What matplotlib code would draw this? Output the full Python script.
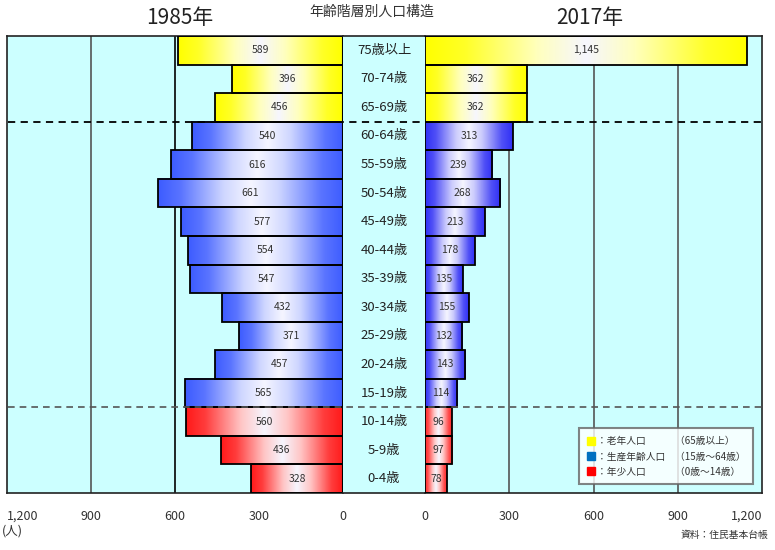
import numpy as np
import matplotlib
matplotlib.use("Agg")
import matplotlib.pyplot as plt
from matplotlib.colors import LinearSegmentedColormap, to_rgb
from matplotlib.patches import Rectangle
from matplotlib.lines import Line2D
from matplotlib import transforms

plt.rcParams['font.family'] = ['Noto Sans CJK JP', 'DejaVu Sans']

# data (top row first)
ages = ['75歳以上', '70-74歳', '65-69歳', '60-64歳', '55-59歳', '50-54歳',
        '45-49歳', '40-44歳', '35-39歳', '30-34歳', '25-29歳', '20-24歳',
        '15-19歳', '10-14歳', '5-9歳', '0-4歳']
pop_1985 = [589, 396, 456, 540, 616, 661, 577, 554, 547, 432, 371, 457,
            565, 560, 436, 328]
pop_2017 = [1145, 362, 362, 313, 239, 268, 213, 178, 135, 155, 132, 143,
            114, 96, 97, 78]
groups = ['old'] * 3 + ['work'] * 10 + ['young'] * 3
ticks = [0, 300, 600, 900, 1200]
tick_labels = ['0', '300', '600', '900', '1,200']
legend_labels = ['：老年人口　　　（65歳以上）',
                 '：生産年齢人口　（15歳～64歳）',
                 '：年少人口　　　（0歳～14歳）']

left_colors = {'old': '#FFFF00', 'work': '#3D5CFF', 'young': '#FF1A1A'}
right_colors = {'old': '#FFFF00', 'work': '#3030F5', 'young': '#FF2A2A'}
bg = '#CCFFFF'
txt = '#333333'

W, H = 775, 550
fig = plt.figure(figsize=(W / 100, H / 100), dpi=100)


def box(x0, x1, y0=36, y1=493):
    return [x0 / W, 1 - y1 / H, (x1 - x0) / W, (y1 - y0) / H]


ax_l = fig.add_axes(box(7, 343))
ax_m = fig.add_axes(box(343, 425))
ax_r = fig.add_axes(box(425, 762))

n = len(ages)
for ax in (ax_l, ax_m, ax_r):
    ax.set_facecolor(bg)
    ax.set_ylim(n - 0.5, -0.5)
    ax.set_yticks([])
    ax.tick_params(length=0, labelsize=9, labelcolor=txt, pad=12)
    for s in ax.spines.values():
        s.set_color('#222222')
        s.set_linewidth(1.2)

ax_l.spines['right'].set_visible(False)
ax_m.spines['left'].set_visible(False)
ax_m.spines['right'].set_visible(False)
ax_r.spines['left'].set_visible(False)
ax_m.set_xticks([])
ax_m.set_xlim(0, 1)


def mix(c, f):
    r = np.array(to_rgb(c))
    return tuple(r + (1 - r) * f)


def grad_bar(ax, y, w, color):
    cmap = LinearSegmentedColormap.from_list(
        '', [(0, color), (0.12, mix(color, 0.15)), (0.35, mix(color, 0.75)),
             (0.5, '#F6F6FF'), (0.65, mix(color, 0.75)),
             (0.88, mix(color, 0.15)), (1, color)])
    arr = np.linspace(0, 1, 128).reshape(1, -1)
    ax.imshow(arr, cmap=cmap, extent=(0, w, y + 0.5, y - 0.5),
              aspect='auto', zorder=2, interpolation='bilinear')
    ax.add_patch(Rectangle((0, y - 0.5), w, 1, fill=False, ec='black',
                           lw=1.3, zorder=3))


for i, (v1, v2, g) in enumerate(zip(pop_1985, pop_2017, groups)):
    grad_bar(ax_l, i, v1, left_colors[g])
    grad_bar(ax_r, i, v2, right_colors[g])
    ax_l.text(v1 / 2, i, f'{v1:,}', ha='center', va='center', fontsize=7.5,
              color=txt, zorder=4)
    ax_r.text(v2 / 2, i, f'{v2:,}', ha='center', va='center', fontsize=7.5,
              color=txt, zorder=4)
    ax_m.text(0.5, i, ages[i], ha='center', va='center', fontsize=9.5,
              color='#222222')

for ax in (ax_l, ax_r):
    ax.set_xticks(ticks)
    ax.set_xticklabels(tick_labels)
    for t in (300, 600, 900):
        ax.axvline(t, color='#555555' if not (ax is ax_l and t == 600) else 'black',
                   lw=1.2, zorder=1)
ax_l.set_xlim(1200, 0)
ax_r.set_xlim(0, 1200)
ax_l.axvline(0, color='black', lw=1.5, zorder=3)
ax_r.get_xticklabels()[-1].set_ha('right')
ax_l.get_xticklabels()[-1].set_ha('left')

# dashed separators across the whole panel
trans = transforms.blended_transform_factory(fig.transFigure, ax_l.transData)
fig.add_artist(Line2D([8 / W, 762 / W], [2.5, 2.5], transform=trans,
                      color='black', ls=(0, (4, 3)), lw=1.3, zorder=5))
fig.add_artist(Line2D([8 / W, 762 / W], [12.5, 12.5], transform=trans,
                      color='#555555', ls=(0, (4, 3)), lw=1.2, zorder=5))

# legend
handles = [Line2D([], [], marker='s', ls='', ms=6, mfc=c, mec=c)
           for c in ('#FFFF00', '#0070C0', '#FF0000')]
leg = ax_r.legend(handles, legend_labels, loc='lower right',
                  bbox_to_anchor=(0.988, 0.008), fontsize=7, frameon=True,
                  fancybox=False, handlelength=0.8, handletextpad=0.2,
                  labelspacing=0.55, borderpad=0.8)
leg.get_frame().set_edgecolor('#666666')
leg.get_frame().set_linewidth(1.5)
for t in leg.get_texts():
    t.set_color(txt)

# titles and notes
fig.text(180 / W, 1 - 18 / H, '1985年', ha='center', va='center',
         fontsize=15, color='#222222')
fig.text(590 / W, 1 - 18 / H, '2017年', ha='center', va='center',
         fontsize=15, color='#222222')
fig.text(372 / W, 1 - 12 / H, '年齢階層別人口構造', ha='center', va='center',
         fontsize=10, color=txt)
fig.text(2 / W, 1 - 531 / H, '(人)', ha='left', va='center',
         fontsize=9, color=txt)
fig.text(768 / W, 1 - 535 / H, '資料：住民基本台帳', ha='right', va='center',
         fontsize=7, color=txt)

fig.savefig('out.png', dpi=100)
